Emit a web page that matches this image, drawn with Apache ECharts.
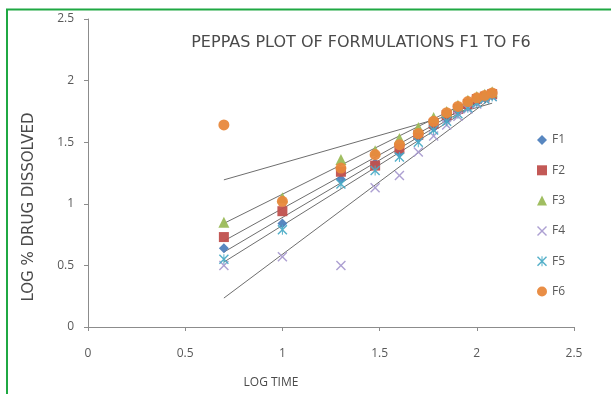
<!DOCTYPE html>
<html>
<head>
<meta charset="utf-8">
<script src="https://cdn.jsdelivr.net/npm/echarts@6/dist/echarts.min.js"></script>
<style>html,body{margin:0;padding:0;background:#fff}#c{width:611px;height:394px}</style>
</head>
<body>
<div id="c"></div>
<script>
// log time (x) values
var logTime = [0.699, 1.0, 1.301, 1.477, 1.602, 1.699, 1.778, 1.845, 1.903, 1.954, 2.0, 2.041, 2.079];
// log % drug dissolved per formulation
var F1 = [0.64, 0.84, 1.20, 1.33, 1.41, 1.53, 1.62, 1.69, 1.75, 1.79, 1.83, 1.86, 1.88];
var F2 = [0.73, 0.94, 1.26, 1.31, 1.45, 1.56, 1.65, 1.72, 1.77, 1.81, 1.85, 1.87, 1.89];
var F3 = [0.85, 1.05, 1.36, 1.43, 1.53, 1.62, 1.70, 1.75, 1.80, 1.84, 1.87, 1.89, 1.91];
var F4 = [0.50, 0.57, 0.50, 1.13, 1.23, 1.42, 1.55, 1.64, 1.71, 1.77, 1.81, 1.85, 1.87];
var F5 = [0.55, 0.79, 1.16, 1.27, 1.38, 1.50, 1.60, 1.67, 1.73, 1.78, 1.82, 1.85, 1.87];
var F6 = [1.64, 1.02, 1.29, 1.40, 1.48, 1.57, 1.67, 1.74, 1.79, 1.83, 1.86, 1.88, 1.90];
var seriesNames = ['F1', 'F2', 'F3', 'F4', 'F5', 'F6'];
var axisTicks = ['0', '0.5', '1', '1.5', '2', '2.5'];
var titleText = 'PEPPAS PLOT OF FORMULATIONS F1 TO F6';
var xTitle = 'LOG TIME';
var yTitle = 'LOG % DRUG DISSOLVED';

var allY = [F1, F2, F3, F4, F5, F6];
var colors = ['#4F81BD', '#C0504D', '#9BBB59', '#A99BD0', '#4BACC6', '#E8883C'];
var xPath = 'path://M0,1 L1,0 L5,4 L9,0 L10,1 L6,5 L10,9 L9,10 L5,6 L1,10 L0,9 L4,5 Z';
var starPath = 'path://M0,1 L1,0 L4.5,3.5 L4.5,0 L5.5,0 L5.5,3.5 L9,0 L10,1 L6,5 L10,9 L9,10 L5.5,6.5 L5.5,10 L4.5,10 L4.5,6.5 L1,10 L0,9 L4,5 Z';
var symbols = ['diamond', 'rect', 'triangle', xPath, starPath, 'circle'];
var sizes = [10, 10, 11, 10, 10, 11];

function fit(xs, ys) {
  var n = xs.length, mx = 0, my = 0;
  for (var i = 0; i < n; i++) { mx += xs[i]; my += ys[i]; }
  mx /= n; my /= n;
  var sxx = 0, sxy = 0;
  for (var i = 0; i < n; i++) { sxx += (xs[i] - mx) * (xs[i] - mx); sxy += (xs[i] - mx) * (ys[i] - my); }
  var b = sxy / sxx, a = my - b * mx;
  var x0 = Math.min.apply(null, xs), x1 = Math.max.apply(null, xs);
  return [[x0, a + b * x0], [x1, a + b * x1]];
}

var series = [];
allY.forEach(function (ys, k) {
  series.push({
    type: 'line',
    data: fit(logTime, ys),
    symbol: 'none',
    silent: true,
    lineStyle: { color: '#6E6E6E', width: 1 },
    z: 1
  });
});
allY.forEach(function (ys, k) {
  series.push({
    name: seriesNames[k],
    type: 'scatter',
    data: logTime.map(function (x, i) { return [x, ys[i]]; }),
    symbol: symbols[k],
    symbolSize: sizes[k],
    itemStyle: { color: colors[k], opacity: 0.95 },
    z: 2 + k
  });
});

var chart = echarts.init(document.getElementById('c'), null, { renderer: 'canvas' });
var axisCommon = {
  type: 'value', min: 0, max: 2.5, interval: 0.5,
  axisLine: { show: true, lineStyle: { color: '#8C8C8C', width: 1 } },
  axisTick: { show: true, inside: false, length: 4, lineStyle: { color: '#8C8C8C' } },
  splitLine: { show: false },
  axisLabel: {
    color: '#595959', fontFamily: 'Open Sans', fontSize: 12,
    formatter: function (v) { return axisTicks[Math.round(v / 0.5)]; }
  }
};
chart.setOption({
  animation: false,
  backgroundColor: '#fff',
  grid: { left: 88, right: 37, top: 19, bottom: 67, containLabel: false },
  xAxis: Object.assign({}, axisCommon, { axisLabel: Object.assign({}, axisCommon.axisLabel, { margin: 21 }) }),
  yAxis: Object.assign({}, axisCommon, { axisLabel: Object.assign({}, axisCommon.axisLabel, { margin: 14 }) }),
  legend: {
    data: seriesNames.map(function (n, k) { return { name: n, icon: symbols[k] }; }),
    orient: 'vertical', left: 532, top: 129,
    itemWidth: 10, itemHeight: 10, itemGap: 18.3,
    textStyle: { color: '#595959', fontFamily: 'Open Sans', fontSize: 12 }
  },
  graphic: [
    { type: 'text', x: 361, y: 43, style: { text: titleText, fill: '#4A4A4A', font: '16px "DejaVu Sans"', align: 'center', verticalAlign: 'middle' } },
    { type: 'text', x: 271, y: 383, style: { text: xTitle, fill: '#4A4A4A', font: '12px "Open Sans"', align: 'center', verticalAlign: 'middle' } },
    { type: 'text', x: 29, y: 207, rotation: Math.PI / 2, style: { text: yTitle, fill: '#4A4A4A', font: '15px "DejaVu Sans"', align: 'center', verticalAlign: 'middle' } },
    { type: 'line', shape: { x1: 7, y1: 9, x2: 7, y2: 394 }, style: { stroke: '#1FA843', lineWidth: 2 } },
    { type: 'line', shape: { x1: 6, y1: 9.5, x2: 611, y2: 9.5 }, style: { stroke: '#1FA843', lineWidth: 2 } }
  ],
  series: series
});
</script>
</body>
</html>
